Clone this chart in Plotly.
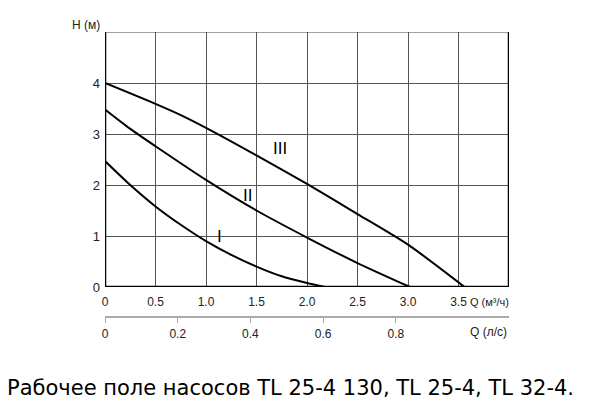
import plotly.graph_objects as go

# Data
q_I = [0, 0.25, 0.5, 0.75, 1.0, 1.25, 1.5, 1.75, 2.0, 2.18]
h_I = [2.47, 2.0, 1.58, 1.22, 0.9, 0.63, 0.4, 0.21, 0.08, 0]
q_II = [0, 0.25, 0.5, 1.0, 1.5, 2.0, 2.5, 3.02]
h_II = [3.48, 3.1, 2.76, 2.1, 1.5, 0.97, 0.47, 0]
q_III = [0, 0.5, 0.75, 1.0, 1.5, 2.0, 2.5, 3.0, 3.56]
h_III = [4.0, 3.59, 3.37, 3.12, 2.58, 2.02, 1.43, 0.83, 0]
curve_names = ["I", "II", "III"]
label_q = [1.13, 1.41, 1.73]
label_h = [1.0, 1.80, 2.71]
x_ticks = [0, 0.5, 1.0, 1.5, 2.0, 2.5, 3.0, 3.5]
x_ticklabels = ["0", "0.5", "1.0", "1.5", "2.0", "2.5", "3.0", "3.5"]
y_ticks = [0, 1, 2, 3, 4]
ls_ticks = [0, 0.2, 0.4, 0.6, 0.8]
ls_ticklabels = ["0", "0.2", "0.4", "0.6", "0.8"]
caption = "Рабочее поле насосов TL 25-4 130, TL 25-4, TL 32-4."

W, H = 600, 411
L, R = 104.5, 509
T, B2 = 32, 317
B = 287

NARROW = "Liberation Sans Narrow, Arial Narrow, Liberation Sans, Arial, sans-serif"

fig = go.Figure()
for q, h in [(q_I, h_I), (q_II, h_II), (q_III, h_III)]:
    fig.add_trace(go.Scatter(x=q, y=h, mode="lines",
                             line=dict(color="black", width=2, shape="spline", smoothing=0.7),
                             showlegend=False, hoverinfo="skip"))

# dummy trace on secondary axis
fig.add_trace(go.Scatter(x=[0], y=[0], xaxis="x2", yaxis="y", mode="markers",
                         marker=dict(opacity=0), showlegend=False, hoverinfo="skip"))

ann = []
for n, x, y in zip(curve_names, label_q, label_h):
    ann.append(dict(x=x, y=y, xref="x", yref="y", text=n, showarrow=False,
                    font=dict(family=NARROW, size=17, color="black")))

def py(p):
    return (B2 - p) / (B2 - T)

ann.append(dict(x=0, y=py(25), xref="paper", yref="paper", text="H (м)", showarrow=False,
                xanchor="right", yanchor="middle", xshift=-3,
                font=dict(family=NARROW, size=12, color="#222")))
ann.append(dict(x=1, y=py(302), xref="paper", yref="paper", text="Q (м³/ч)", showarrow=False,
                xanchor="right", yanchor="middle", xshift=2,
                font=dict(family=NARROW, size=11, color="#222")))
ann.append(dict(x=1, y=py(332), xref="paper", yref="paper", text="Q (л/с)", showarrow=False,
                xanchor="right", yanchor="middle",
                font=dict(family=NARROW, size=12, color="#222")))
ann.append(dict(x=(290 - L) / (R - L), y=py(388), xref="paper", yref="paper", text=caption,
                showarrow=False, xanchor="center", yanchor="middle",
                font=dict(family="DejaVu Sans, Verdana, sans-serif", size=21, color="black")))

shapes = [
    dict(type="line", xref="x", yref="y", x0=0, x1=0, y0=0, y1=5, line=dict(color="black", width=2.5)),
    dict(type="line", xref="x", yref="y", x0=0, x1=4, y0=0, y1=0, line=dict(color="black", width=2.5)),
    dict(type="line", xref="x", yref="y", x0=4, x1=4, y0=0, y1=5, line=dict(color="black", width=2.5)),
    dict(type="line", xref="x", yref="y", x0=0, x1=4, y0=5, y1=5, line=dict(color="#444", width=1)),
]

fig.update_layout(
    template="none",
    width=W, height=H,
    margin=dict(l=L, r=W - R, t=T, b=H - B2, pad=0),
    paper_bgcolor="white", plot_bgcolor="white",
    xaxis=dict(range=[0, 4], anchor="y", tickvals=x_ticks, ticktext=x_ticklabels,
               showgrid=True, gridcolor="#555", gridwidth=1, zeroline=False, automargin=False,
               showline=False, ticks="", ticklabelstandoff=6,
               tickfont=dict(family=NARROW, size=12, color="#222")),
    xaxis2=dict(range=[0, 4 / 3.6], overlaying="x", anchor="free", position=0, side="bottom",
                tickvals=ls_ticks, ticktext=ls_ticklabels, showgrid=False, zeroline=False,
                automargin=False,
                showline=True, linecolor="#aaa", linewidth=2, ticks="outside", ticklen=5,
                tickcolor="#aaa", tickwidth=1, ticklabelstandoff=1,
                tickfont=dict(family=NARROW, size=12, color="#222")),
    yaxis=dict(range=[0, 5], domain=[(B2 - B) / (B2 - T), 1], tickvals=y_ticks,
               showgrid=True, gridcolor="#555", gridwidth=1, zeroline=False, automargin=False,
               showline=False, ticks="", ticklabelstandoff=4,
               tickfont=dict(family=NARROW, size=13, color="#222")),
    annotations=ann, shapes=shapes,
)

fig.write_html("out.html", config={"displayModeBar": False},
               post_script="document.body.style.margin='0';")
